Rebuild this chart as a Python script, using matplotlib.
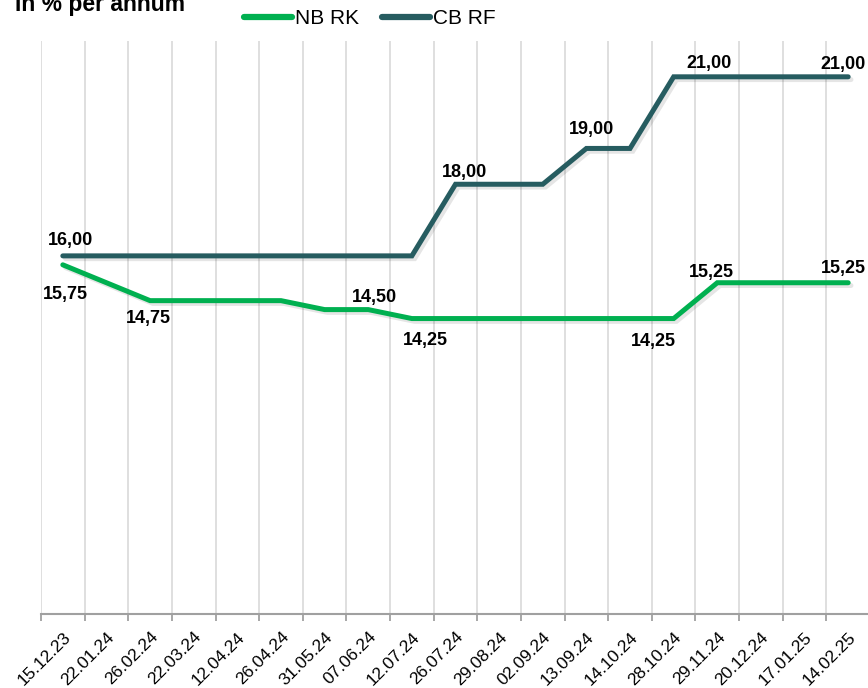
import matplotlib.pyplot as plt
import matplotlib.patheffects as pe
import numpy as np

dates = [
    "15.12.23", "22.01.24", "26.02.24", "22.03.24", "12.04.24", "26.04.24",
    "31.05.24", "07.06.24", "12.07.24", "26.07.24", "29.08.24", "02.09.24",
    "13.09.24", "14.10.24", "28.10.24", "29.11.24", "20.12.24", "17.01.25",
    "14.02.25",
]
nb_rk = [15.75, 15.25, 14.75, 14.75, 14.75, 14.75, 14.50, 14.50, 14.25, 14.25,
         14.25, 14.25, 14.25, 14.25, 14.25, 15.25, 15.25, 15.25, 15.25]
cb_rf = [16.00, 16.00, 16.00, 16.00, 16.00, 16.00, 16.00, 16.00, 16.00, 18.00,
         18.00, 18.00, 19.00, 19.00, 21.00, 21.00, 21.00, 21.00, 21.00]

# which points carry a value label, and where (pixel offset from the point)
nb_labels = [(0, 3, -30), (2, -2, -18), (7, 6, 12), (8, 14, -22), (14, -20, -23),
             (15, -6, 10), (18, -5, 14)]
cb_labels = [(0, 8, 15), (9, 9, 12), (12, 5, 19), (15, -8, 13), (18, -5, 12)]

GREEN = "#00B050"
TEAL = "#265C60"
LW = 3.6

plt.rcParams["font.family"] = ["Liberation Sans", "DejaVu Sans"]

fig = plt.figure(figsize=(8.68, 6.88), dpi=100)
ax = fig.add_axes([41 / 868, 74 / 688, 829 / 868, 573 / 688])

x = np.arange(len(dates))
shadow = [pe.SimpleLineShadow(offset=(2, -2), shadow_color="#000000", alpha=0.1),
          pe.Normal()]
ax.plot(x, nb_rk, color=GREEN, lw=LW, solid_capstyle="round",
        solid_joinstyle="miter", label="NB RK", path_effects=shadow)
ax.plot(x, cb_rf, color=TEAL, lw=LW, solid_capstyle="round",
        solid_joinstyle="miter", label="CB RF", path_effects=shadow)

for series, labels in [(nb_rk, nb_labels), (cb_rf, cb_labels)]:
    for i, dx, dy in labels:
        ax.annotate(f"{series[i]:.2f}".replace(".", ","), (x[i], series[i]),
                    xytext=(dx, dy), textcoords="offset pixels",
                    ha="center", va="center", fontsize=13, fontweight="bold")

ax.set_xlim(-0.5, len(dates) - 0.5)
ax.set_ylim(6, 22)

# gridlines and tick marks on category boundaries, labels at centres
ax.set_xticks(np.arange(-0.5, len(dates) + 0.5, 1.0))
ax.set_xticklabels([])
ax.set_xticks(x, minor=True)
ax.set_xticklabels(dates, minor=True, rotation=45, ha="right", va="top",
                   rotation_mode="anchor", fontsize=12.5)
ax.tick_params(axis="x", which="major", length=5, width=1.3, color="#A0A0A0",
               direction="out")
ax.tick_params(axis="x", which="minor", length=0, pad=11)
ax.set_yticks([])
ax.grid(axis="x", which="major", color="#D9D9D9", lw=1.2)
ax.set_axisbelow(True)

for side in ["top", "right", "left"]:
    ax.spines[side].set_visible(False)
ax.spines["bottom"].set_color("#A0A0A0")
ax.spines["bottom"].set_linewidth(1.5)

leg = fig.legend(loc="center", bbox_to_anchor=(370 / 868, 1 - 19 / 688), ncol=2,
                 frameon=False, fontsize=15, handlelength=2.3, handletextpad=0.15,
                 columnspacing=1.1)
for line in leg.get_lines():
    line.set_linewidth(4.5)
    line.set_solid_capstyle("round")
    line.set_path_effects([])

fig.text(15 / 868, 1 - 11.5 / 688, "In % per annum", fontsize=16.5,
         fontweight="bold", ha="left", va="baseline")

fig.savefig("out.png", dpi=100)
